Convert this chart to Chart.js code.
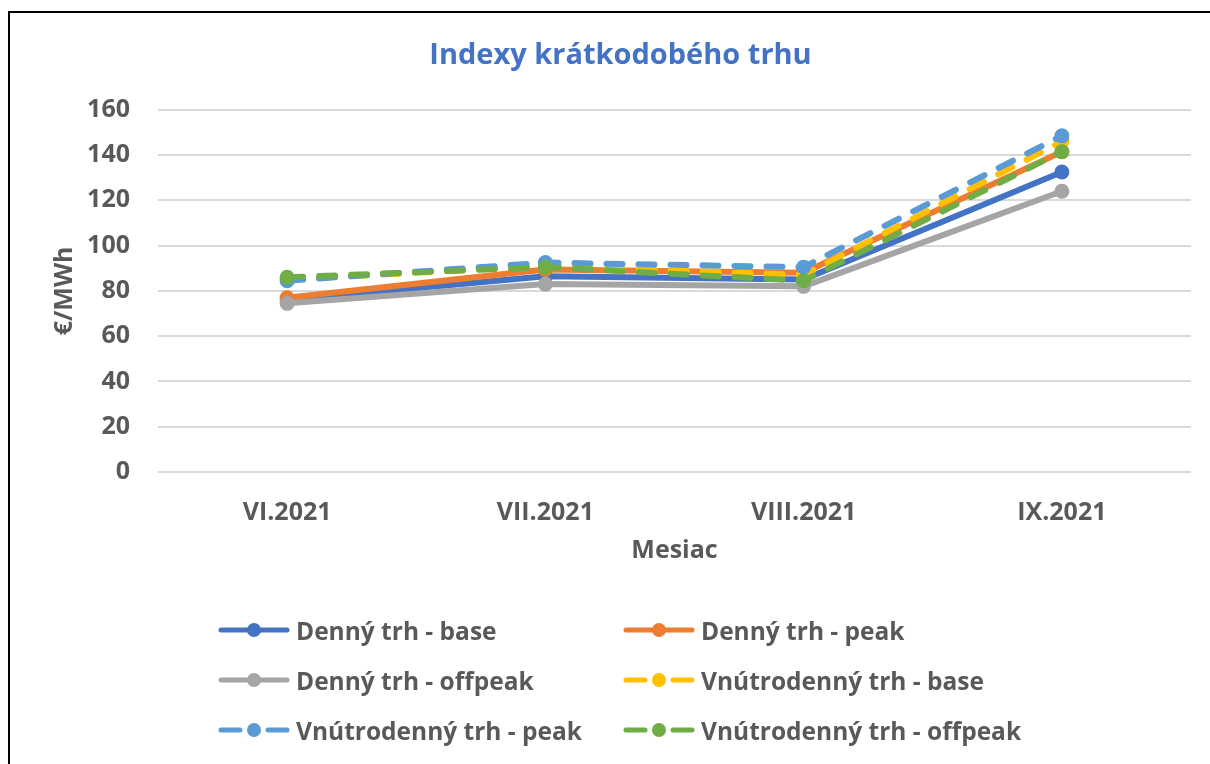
<!DOCTYPE html>
<html>
<head>
<meta charset="utf-8">
<script src="https://cdn.jsdelivr.net/npm/chart.js@4"></script>
<style>
  body { margin: 0; background: #fff; }
  #wrap { position: relative; width: 1210px; height: 764px; overflow: hidden; }
  #frame { position: absolute; left: 8px; top: 11px; width: 1300px; height: 900px;
           border-left: 2px solid #000; border-top: 2px solid #000; pointer-events: none; }
  #legend { position: absolute; left: 218px; top: 605px; display: grid;
            grid-template-columns: 405px 450px; row-gap: 0; font-family: "Open Sans", sans-serif;
            font-weight: 700; font-size: 24.5px; color: #595959; white-space: nowrap; }
  .item { display: flex; align-items: center; height: 50px; }
  .item svg { margin-right: 6px; flex: none; }
</style>
</head>
<body>
<div id="wrap">
  <canvas id="chart" width="1210" height="764"></canvas>
  <div id="frame"></div>
  <div id="legend"></div>
</div>
<script>
const months = ['VI.2021', 'VII.2021', 'VIII.2021', 'IX.2021'];
const seriesNames = ['Denný trh - base', 'Denný trh - peak', 'Denný trh - offpeak',
                     'Vnútrodenný trh - base', 'Vnútrodenný trh - peak', 'Vnútrodenný trh - offpeak'];
const dennyBase = [76, 86.5, 85, 132.5];
const dennyPeak = [77, 89.5, 88, 141.5];
const dennyOffpeak = [74.5, 83, 82, 124];
const vnutroBase = [85, 91, 87, 146];
const vnutroPeak = [84.5, 92.5, 90.5, 148.5];
const vnutroOffpeak = [86, 90.5, 84.5, 141.5];
const yTicks = [0, 20, 40, 60, 80, 100, 120, 140, 160];

const colors = ['#4472C4', '#ED7D31', '#A5A5A5', '#FFC000', '#5B9BD5', '#70AD47'];
const values = [dennyBase, dennyPeak, dennyOffpeak, vnutroBase, vnutroPeak, vnutroOffpeak];
const dashed = [false, false, false, true, true, true];

const font = "'Open Sans', sans-serif";
const gray = '#595959';

const datasets = values.map((v, i) => ({
  label: seriesNames[i],
  data: v,
  borderColor: colors[i],
  backgroundColor: colors[i],
  borderWidth: 6,
  borderDash: dashed[i] ? [16, 16] : [],
  borderCapStyle: 'round',
  borderJoinStyle: 'round',
  pointRadius: 7.5,
  pointHoverRadius: 7.5,
  pointBorderWidth: 0,
  tension: 0,
  order: 6 - i
}));

new Chart(document.getElementById('chart'), {
  type: 'line',
  data: { labels: months, datasets: datasets },
  options: {
    responsive: false,
    animation: false,
    layout: { padding: { left: 50, right: 19, top: 0, bottom: 194 } },
    plugins: {
      legend: { display: false },
      tooltip: { enabled: false },
      title: {
        display: true,
        text: 'Indexy krátkodobého trhu',
        color: '#4472C4',
        font: { family: font, size: 29, weight: 'bold' },
        padding: { top: 38, bottom: 37 }
      }
    },
    scales: {
      x: {
        offset: true,
        grid: { display: false },
        border: { display: false },
        ticks: { color: gray, font: { family: font, size: 25, weight: 'bold' }, padding: 18 },
        title: { display: true, text: 'Mesiac', color: gray, font: { family: font, size: 25, weight: 'bold' }, padding: { top: 8 } },
        afterFit: s => { s.height = 98; }
      },
      y: {
        min: 0, max: 160,
        afterBuildTicks: s => { s.ticks = yTicks.map(v => ({ value: v })); },
        grid: { color: '#D9D9D9', lineWidth: 2, drawTicks: false },
        border: { display: false },
        ticks: { color: gray, font: { family: font, size: 25, weight: 'bold' }, padding: 28 },
        title: { display: true, text: '€/MWh', color: gray, font: { family: font, size: 25, weight: 'bold' }, padding: 0 },
        afterFit: s => { s.width = 108; }
      }
    }
  }
});

// legend built from the same series
const legend = document.getElementById('legend');
seriesNames.forEach((name, i) => {
  const item = document.createElement('div');
  item.className = 'item';
  const c = colors[i];
  const lines = dashed[i]
    ? `<line x1="3" y1="10" x2="22" y2="10" stroke="${c}" stroke-width="5" stroke-linecap="round"/>
       <line x1="50" y1="10" x2="69" y2="10" stroke="${c}" stroke-width="5" stroke-linecap="round"/>`
    : `<line x1="3" y1="10" x2="69" y2="10" stroke="${c}" stroke-width="5" stroke-linecap="round"/>`;
  item.innerHTML = `<svg width="72" height="20">${lines}<circle cx="36" cy="10" r="7" fill="${c}"/></svg><span>${name}</span>`;
  legend.appendChild(item);
});
</script>
</body>
</html>
